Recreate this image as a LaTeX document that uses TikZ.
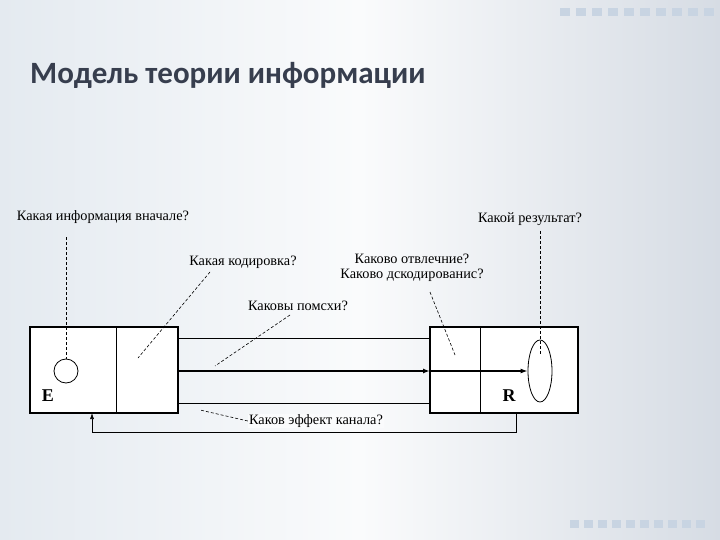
\documentclass[tikz,border=0pt]{standalone}
\usepackage{fontspec}
\setmainfont{Liberation Serif}
\newfontfamily\titlefont{Carlito}
\usetikzlibrary{arrows.meta,shapes.geometric}
\definecolor{bgl}{RGB}{228,234,240}
\definecolor{bgm}{RGB}{250,251,252}
\definecolor{bgr}{RGB}{214,220,228}
\definecolor{deco}{RGB}{200,212,226}
\definecolor{ttl}{RGB}{55,62,78}
\begin{document}
\begin{tikzpicture}[x=1pt,y=-1pt,
  lbl/.style={font=\rmfamily\fontsize{14.3}{15}\selectfont,inner sep=1pt,align=center},
  dsh/.style={densely dashed,line width=0.6pt},
  box/.style={line width=2.6pt,fill=white}]
\useasboundingbox (0,0) rectangle (720,540);
\shade[left color=bgl,right color=bgr,middle color=bgm] (0,0) rectangle (720,540);
\foreach \i in {0,...,9}{\fill[deco] (560+\i*16,8) rectangle ++(10,8);
 \fill[deco] (570+\i*14,520) rectangle ++(9,8);}
\node[anchor=west,inner sep=0,font=\titlefont\bfseries\fontsize{31}{33}\selectfont,text=ttl] (title) at (30,75) {Модель теории информации};
% boxes
\draw[box] (30,327) rectangle (178,413);
\draw[line width=0.9pt] (116,327) -- (116,413);
\draw[box] (430,327) rectangle (578,413);
\draw[line width=0.9pt] (480,327) -- (480,413);
\draw[line width=0.8pt] (178,338) -- (430,338);
\draw[line width=0.8pt] (178,403) -- (430,403);
\node[draw,circle,minimum size=24pt,inner sep=0,line width=0.8pt] (circ) at (66,371) {};
\node[draw,ellipse,minimum width=24pt,minimum height=62pt,inner sep=0,line width=0.8pt] (ell) at (540,371) {};
\coordinate (a1) at (178,371); \coordinate (a2) at (430,371);
\draw[line width=1.6pt,-{Latex[length=7pt,width=5pt]}] (a1) -- (a2);
\draw[line width=1.6pt,-{Latex[length=7pt,width=5pt]}] (a2) -- (ell.west);
\node[font=\rmfamily\bfseries\fontsize{18}{18}\selectfont] (E) at (48,396) {E};
\node[font=\rmfamily\bfseries\fontsize{18}{18}\selectfont] (R) at (509,396) {R};
% feedback
\coordinate (f1) at (516,413); \coordinate (f2) at (516,432); \coordinate (f3) at (92,432); \coordinate (f4) at (92,413);
\draw[line width=0.6pt,-{Latex[length=6pt,width=4pt]}] (f1) -- (f2) -- (f3) -- (f4);
% labels
\node[lbl] (l1) at (103,217) {Какая информация вначале?};
\node[lbl] (l2) at (243,262) {Какая кодировка?};
\node[lbl] (l3) at (298,306) {Каковы помсхи?};
\node[lbl] (l4) at (412,268) {Каково отвлечние?\\Каково дскодированис?};
\node[lbl] (l5) at (530,219) {Какой результат?};
\node[lbl,fill=bgm] (l6) at (316,421) {Каков эффект канала?};
\draw[dsh] (66,237) -- (circ.north);
\draw[dsh] (210,272) -- (138,358);
\draw[dsh] (290,315) -- (215,366);
\draw[dsh] (430,292) -- (455,355);
\draw[dsh] (540,231) -- (540,355);
\draw[dsh] (l6.west) -- (200,410);
\end{tikzpicture}
\end{document}
